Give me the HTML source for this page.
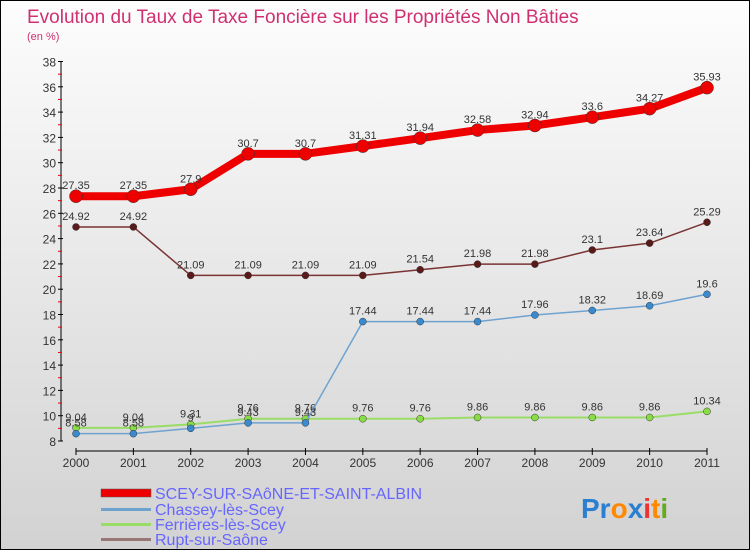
<!DOCTYPE html>
<html><head><meta charset="utf-8"><style>
body{margin:0}
#c{width:750px;height:550px;position:relative;box-sizing:border-box;border:1px solid #000;background:linear-gradient(#fdfdfd,#d2d2d2);overflow:hidden;font-family:"Liberation Sans",sans-serif}
text{font-family:"Liberation Sans",sans-serif}
</style></head><body>
<div id="c">
<svg width="750" height="550" id="svg">
<text x="26" y="22" font-size="19" fill="#d03070">Evolution du Taux de Taxe Foncière sur les Propriétés Non Bâties</text>
<text x="26" y="39" font-size="11" fill="#d03070">(en %)</text>
<g id="axes"></g><g id="series"></g>
<g>
<rect x="100" y="488" width="50" height="8" fill="#ee0000" stroke="#555" stroke-width="0.5"/>
<text x="154" y="498" font-size="16" fill="#6666ff">SCEY-SUR-SAôNE-ET-SAINT-ALBIN</text>
<rect x="100" y="507" width="50" height="3" fill="#6fa3cf"/>
<text x="154" y="514" font-size="16" fill="#6666ff">Chassey-lès-Scey</text>
<rect x="100" y="522" width="50" height="3" fill="#99dd66"/>
<text x="154" y="529" font-size="16" fill="#6666ff">Ferrières-lès-Scey</text>
<rect x="100" y="537" width="50" height="3" fill="#997777"/>
<text x="154" y="544" font-size="16" fill="#6666ff">Rupt-sur-Saône</text>
</g>
<text x="580" y="517" font-size="28" font-weight="bold"><tspan fill="#2a7fd0">Pr</tspan><tspan fill="#ff8800">o</tspan><tspan fill="#2a7fd0">x</tspan><tspan fill="#ee3333">i</tspan><tspan fill="#ff8800">t</tspan><tspan fill="#66aa22">i</tspan></text>
</svg></div>
<script>
const years=[2000,2001,2002,2003,2004,2005,2006,2007,2008,2009,2010,2011];
const scey=[27.35,27.35,27.9,30.7,30.7,31.31,31.94,32.58,32.94,33.6,34.27,35.93];
const chassey=[8.58,8.58,9,9.43,9.43,17.44,17.44,17.44,17.96,18.32,18.69,19.6];
const ferrieres=[9.04,9.04,9.31,9.76,9.76,9.76,9.76,9.86,9.86,9.86,9.86,10.34];
const rupt=[24.92,24.92,21.09,21.09,21.09,21.09,21.54,21.98,21.98,23.1,23.64,25.29];
const yTicks=[8,10,12,14,16,18,20,22,24,26,28,30,32,34,36,38];
const NS="http://www.w3.org/2000/svg";
const X=i=>75+i*(706-75)/11;
const Y=v=>440-(v-8)*(440-60.5)/30;
function mk(t,a,p){const e=document.createElementNS(NS,t);for(const k in a)e.setAttribute(k,a[k]);p.appendChild(e);return e;}
const ax=document.getElementById('axes');
let l=mk('line',{x1:60,y1:Y(38),x2:60,y2:Y(8),stroke:'#000'},ax);


yTicks.forEach(v=>{
 const tk=mk('line',{x1:57,y1:Y(v),x2:62,y2:Y(v),stroke:'#000'},ax);
 
 
 if(v<38){const m=mk('line',{x1:57,y1:Y(v+1),x2:61,y2:Y(v+1),stroke:'#e00'},ax);
 
 }
 const t=mk('text',{x:55,y:Y(v)+5,'font-size':12,'text-anchor':'end',fill:'#333'},ax);t.textContent=v;
 
 
});
l=mk('line',{x1:X(0),y1:450,x2:X(11),y2:450,stroke:'#000'},ax);


years.forEach((y,i)=>{
 const tk=mk('line',{x1:X(i),y1:447,x2:X(i),y2:454,stroke:'#000'},ax);
 
 
 const t=mk('text',{x:X(i),y:466,'font-size':12,'text-anchor':'middle',fill:'#333'},ax);t.textContent=y;
 
 
});
const sg=document.getElementById('series');
function draw(name,data,col,w,r,fill,lab){
 const g=mk('g',{},sg);
 
 
 const pl=mk('polyline',{points:data.map((v,i)=>X(i)+','+Y(v)).join(' '),fill:'none',stroke:col,'stroke-width':w,'stroke-linejoin':'round'},g);
 
 
 data.forEach((v,i)=>{
  const c=mk('circle',{cx:X(i),cy:Y(v),r:r,fill:fill,stroke:'#333','stroke-width':0.5},g);
  
  
  const t=mk('text',{x:X(i),y:Y(v)-7,'font-size':11,'text-anchor':'middle',fill:'#333'},g);t.textContent=String(v).replace('.','.');
  
  
 });
}
draw('ferrieres',ferrieres,'#99dd66',2,3.5,'#88dd44');
draw('chassey',chassey,'#6fa3cf',1.5,3.5,'#3a8ad0');
draw('rupt',rupt,'#7a3333',1.5,3.5,'#5a1a1a');
draw('scey',scey,'#ee0000',8,6.5,'#ee0000');
</script>
</body></html>
